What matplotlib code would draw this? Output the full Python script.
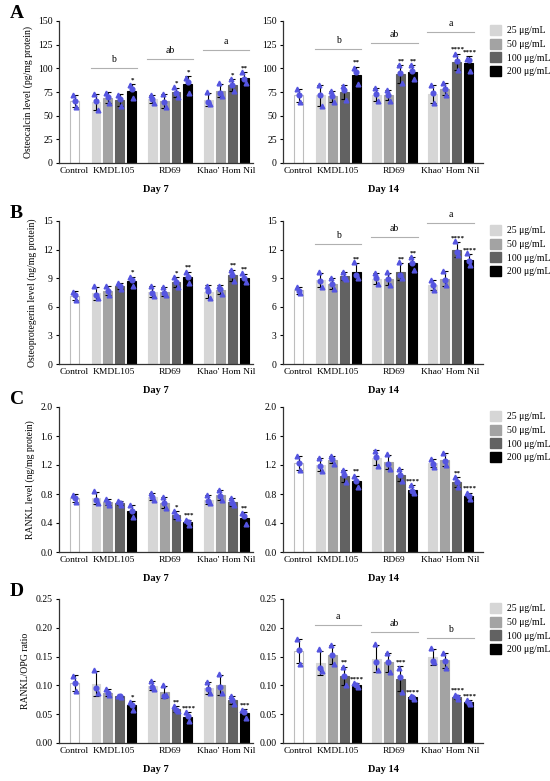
import numpy as np
import matplotlib.pyplot as plt
from matplotlib.patches import Patch

plt.rcParams['font.family'] = ['Liberation Serif', 'DejaVu Serif']

groups = ['Control', 'KMDL105', 'RD69', "Khao' Hom Nil"]
doses = ['25 μg/mL', '50 μg/mL', '100 μg/mL', '200 μg/mL']

# three replicates per bar: Control, KMDL105 x4, RD69 x4, Khao' Hom Nil x4
ocn_d7 = [[72, 66, 59],
          [73, 65, 56], [74, 70, 63], [72, 68, 60], [82, 78, 69],
          [72, 68, 63], [73, 64, 59], [80, 74, 70], [90, 86, 74],
          [75, 64, 62], [84, 74, 71], [89, 82, 76], [96, 89, 84]]
ocn_d14 = [[78, 72, 64],
           [82, 72, 60], [76, 71, 64], [81, 77, 67], [100, 96, 83],
           [79, 73, 65], [77, 72, 66], [103, 95, 84], [103, 97, 89],
           [82, 74, 63], [85, 78, 72], [115, 108, 98], [110, 109, 97]]
opg_d7 = [[7.6, 7.2, 6.7],
          [8.2, 7.2, 6.9], [8.2, 7.7, 7.2], [8.5, 8.2, 7.9], [9.1, 8.8, 8.2],
          [8.2, 7.5, 7.1], [8.1, 7.4, 7.2], [9.1, 8.6, 8.1], [9.7, 9.1, 8.5],
          [8.2, 7.7, 6.9], [8.2, 7.9, 7.3], [9.9, 9.3, 8.7], [9.5, 9.0, 8.6]]
opg_d14 = [[8.1, 7.7, 7.4],
           [9.6, 8.7, 8.1], [9.0, 8.4, 7.9], [9.7, 9.0, 8.9], [10.7, 9.3, 9.0],
           [9.5, 9.0, 8.4], [9.6, 8.9, 8.3], [10.7, 9.3, 9.0], [11.2, 10.6, 9.9],
           [8.8, 8.3, 7.8], [9.8, 8.8, 8.3], [12.9, 11.7, 11.4], [11.6, 10.8, 10.4]]
rankl_d7 = [[0.79, 0.75, 0.69],
            [0.84, 0.72, 0.67], [0.73, 0.68, 0.65], [0.71, 0.68, 0.65], [0.65, 0.57, 0.48],
            [0.81, 0.76, 0.72], [0.76, 0.67, 0.61], [0.57, 0.49, 0.47], [0.44, 0.42, 0.37],
            [0.79, 0.70, 0.68], [0.86, 0.77, 0.72], [0.75, 0.67, 0.65], [0.54, 0.49, 0.38]]
rankl_d14 = [[1.33, 1.23, 1.13],
             [1.30, 1.19, 1.12], [1.32, 1.28, 1.22], [1.13, 1.06, 0.96], [1.05, 0.98, 0.90],
             [1.40, 1.31, 1.19], [1.35, 1.22, 1.15], [1.14, 1.06, 0.98], [0.93, 0.84, 0.81],
             [1.28, 1.22, 1.17], [1.37, 1.25, 1.20], [1.03, 0.97, 0.89], [0.82, 0.77, 0.73]]
ratio_d7 = [[0.117, 0.105, 0.090],
            [0.127, 0.095, 0.087], [0.094, 0.086, 0.083], [0.082, 0.081, 0.080], [0.072, 0.066, 0.058],
            [0.108, 0.097, 0.093], [0.101, 0.081, 0.083], [0.065, 0.058, 0.055], [0.053, 0.047, 0.038],
            [0.106, 0.093, 0.087], [0.120, 0.097, 0.086], [0.082, 0.074, 0.068], [0.058, 0.054, 0.044]]
ratio_d14 = [[0.180, 0.162, 0.137],
             [0.163, 0.130, 0.125], [0.170, 0.152, 0.138], [0.132, 0.117, 0.100], [0.104, 0.101, 0.098],
             [0.172, 0.140, 0.126], [0.157, 0.140, 0.123], [0.131, 0.115, 0.088], [0.081, 0.079, 0.077],
             [0.165, 0.143, 0.140], [0.157, 0.143, 0.130], [0.084, 0.080, 0.076], [0.075, 0.070, 0.067]]

# significance vs control
stars_ocn_d7 = ['', '', '', '', '*', '', '', '*', '*', '', '', '*', '**']
stars_ocn_d14 = ['', '', '', '', '**', '', '', '**', '**', '', '', '****', '****']
stars_opg_d7 = ['', '', '', '', '*', '', '', '*', '**', '', '', '**', '**']
stars_opg_d14 = ['', '', '', '', '**', '', '', '**', '**', '', '', '****', '****']
stars_rankl_d7 = ['', '', '', '', '', '', '', '*', '***', '', '', '', '**']
stars_rankl_d14 = ['', '', '', '', '**', '', '', '', '****', '', '', '**', '****']
stars_ratio_d7 = ['', '', '', '', '*', '', '', '**', '****', '', '', '', '***']
stars_ratio_d14 = ['', '', '', '**', '****', '', '', '***', '****', '', '', '****', '****']

# letters between strains
letters_ocn_d7 = ['b', 'ab', 'a']
bracket_ocn_d7 = [100, 110, 119]
letters_ocn_d14 = ['b', 'ab', 'a']
bracket_ocn_d14 = [120, 127, 138]
letters_opg_d14 = ['b', 'ab', 'a']
bracket_opg_d14 = [12.6, 13.3, 14.8]
letters_ratio_d14 = ['a', 'ab', 'b']
bracket_ratio_d14 = [0.204, 0.193, 0.182]

bar_colors = ['white', '#d6d6d6', '#a3a3a3', '#626262', '#000000']
dot_color = '#5555e0'
markers = ['^', 'o', '^']

# x positions: control, then three groups of four
xpos = [0.0]
for g in range(3):
    xpos += [1.8 + g * 4.7 + k for k in range(4)]
xpos = np.array(xpos)
group_centers = [0.0] + [1.8 + g * 4.7 + 1.5 for g in range(3)]


def draw_panel(ax, reps, stars, ymax, yticks, fmt, ylabel=None, day='Day 7',
               letters=None, brackets=None, xmax=14.95):
    reps = np.array(reps, dtype=float)
    means = reps.mean(axis=1)
    sds = reps.std(axis=1, ddof=1)
    for i, x in enumerate(xpos):
        c = bar_colors[0] if i == 0 else bar_colors[(i - 1) % 4 + 1]
        ec = '#bdbdbd' if i == 0 else c
        ax.bar(x, means[i], width=0.75, color=c, edgecolor=ec, linewidth=0.8, zorder=2)
        ax.errorbar(x, means[i], yerr=sds[i], color='black', lw=0.8, capsize=2,
                    capthick=0.8, zorder=3)
        for j, v in enumerate(reps[i]):
            ax.plot(x + (j - 1) * 0.13, v, marker=markers[j], ms=3.4, color=dot_color,
                    ls='none', zorder=4)
        if stars[i]:
            ax.text(x + 0.05, means[i] + sds[i] + ymax * 0.012, stars[i], ha='center',
                    va='bottom', fontsize=5, fontweight='bold')
    if letters:
        for g, (lt, yb) in enumerate(zip(letters, brackets)):
            x0 = xpos[1 + 4 * g] - 0.45
            x1 = xpos[4 + 4 * g] + 0.45
            ax.plot([x0, x1], [yb, yb], color='#b0b0b0', lw=0.8, zorder=1)
            ax.text((x0 + x1) / 2, yb + ymax * 0.03, lt, ha='center', va='bottom',
                    fontsize=7)
    ax.set_ylim(0, ymax)
    ax.set_xlim(-1.3, xmax)
    ax.set_yticks(yticks)
    ax.set_yticklabels([fmt.format(t) for t in yticks], fontsize=7)
    ax.set_xticks(group_centers)
    ax.set_xticklabels(groups, fontsize=6.8)
    ax.tick_params(axis='x', length=0, pad=3)
    ax.tick_params(axis='y', length=2.5, width=0.8, pad=2)
    for s in ['top', 'right']:
        ax.spines[s].set_visible(False)
    for s in ['left', 'bottom']:
        ax.spines[s].set_linewidth(0.9)
        ax.spines[s].set_color('#333333')
    if ylabel:
        ax.set_ylabel(ylabel, fontsize=7)
    ax.set_xlabel(day, fontsize=7.5, fontweight='bold', labelpad=7)


fig = plt.figure(figsize=(5.5, 7.81), dpi=100)
W, H = 550.0, 781.0
rows = [(21, 163), (221, 364), (407, 552), (599, 743)]
left_ax, right_ax = [], []
for top, bot in rows:
    left_ax.append(fig.add_axes([59 / W, 1 - bot / H, 194 / W, (bot - top) / H]))
    right_ax.append(fig.add_axes([283 / W, 1 - bot / H, 200 / W, (bot - top) / H]))

t_ocn = [0, 25, 50, 75, 100, 125, 150]
t_opg = [0, 3, 6, 9, 12, 15]
t_rankl = [0, 0.4, 0.8, 1.2, 1.6, 2.0]
t_ratio = [0, 0.05, 0.10, 0.15, 0.20, 0.25]

draw_panel(left_ax[0], ocn_d7, stars_ocn_d7, 150, t_ocn, '{:g}',
           'Osteocalcin level (pg/mg protein)', 'Day 7', letters_ocn_d7, bracket_ocn_d7)
draw_panel(right_ax[0], ocn_d14, stars_ocn_d14, 150, t_ocn, '{:g}', None, 'Day 14',
           letters_ocn_d14, bracket_ocn_d14, xmax=15.4)
draw_panel(left_ax[1], opg_d7, stars_opg_d7, 15, t_opg, '{:g}',
           'Osteoprotegerin level (ng/mg protein)', 'Day 7')
draw_panel(right_ax[1], opg_d14, stars_opg_d14, 15, t_opg, '{:g}', None, 'Day 14',
           letters_opg_d14, bracket_opg_d14, xmax=15.4)
draw_panel(left_ax[2], rankl_d7, stars_rankl_d7, 2.0, t_rankl, '{:.1f}',
           'RANKL level (ng/mg protein)', 'Day 7')
draw_panel(right_ax[2], rankl_d14, stars_rankl_d14, 2.0, t_rankl, '{:.1f}', None,
           'Day 14', xmax=15.4)
draw_panel(left_ax[3], ratio_d7, stars_ratio_d7, 0.25, t_ratio, '{:.2f}',
           'RANKL/OPG ratio', 'Day 7')
draw_panel(right_ax[3], ratio_d14, stars_ratio_d14, 0.25, t_ratio, '{:.2f}', None,
           'Day 14', letters_ratio_d14, bracket_ratio_d14, xmax=15.4)

handles = [Patch(facecolor=c, edgecolor=c) for c in bar_colors[1:]]
for ax in right_ax:
    ax.legend(handles, doses, loc='upper left', bbox_to_anchor=(1.0, 1.02),
              frameon=False, fontsize=7, handlelength=1.2, handleheight=1.2,
              labelspacing=0.35, handletextpad=0.6, borderaxespad=0.3)

for lt, (top, bot) in zip('ABCD', rows):
    fig.text(10 / W, 1 - (top - 8) / H, lt, fontsize=14, fontweight='bold',
             va='center', ha='left')

fig.savefig('out.png', dpi=100)
